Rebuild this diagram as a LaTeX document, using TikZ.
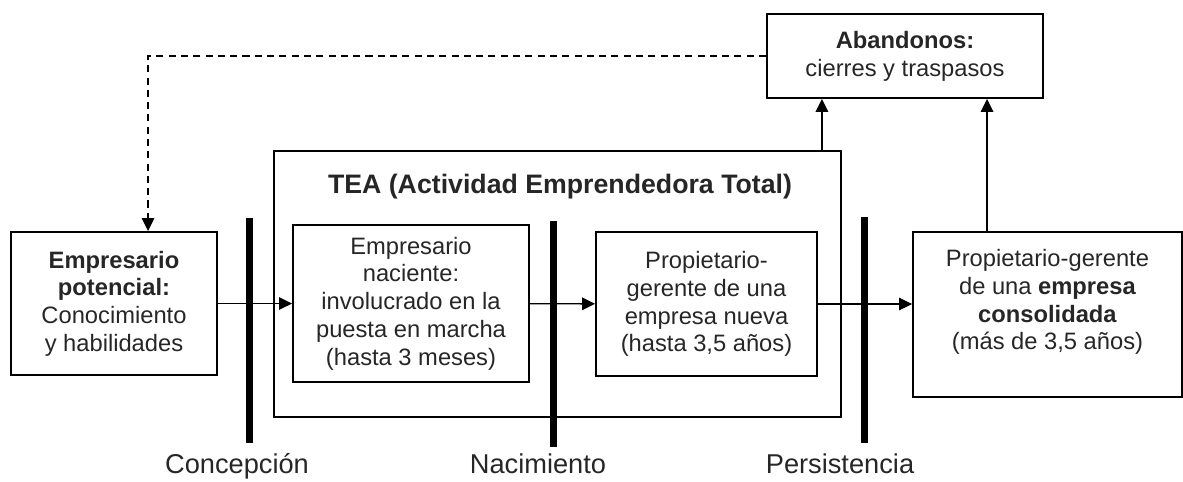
\documentclass[tikz,border=0pt]{standalone}
\usepackage{fontspec}
\setmainfont{Liberation Sans}
\usetikzlibrary{arrows.meta}

\begin{document}
\begin{tikzpicture}[x=0.02cm,y=-0.02cm,
  every node/.style={text=black!85},
  box/.style={draw=black,line width=1.1pt,inner sep=0pt,align=center,
    font=\fontsize{13.5}{15.8}\selectfont},
  bar/.style={fill=black,inner sep=0pt,minimum width=0.14cm},
  arr/.style={line width=0.8pt,-{Triangle[length=0.26cm,width=0.25cm]}},
  lbl/.style={font=\fontsize{15.5}{18}\selectfont,anchor=base}]
\useasboundingbox (0,0) rectangle (1183,481);

% phases of the TEA
\node[box,minimum width=11.34cm,minimum height=5.32cm] (tea) at (557.5,284) {};
\node[lbl,font=\fontsize{15.2}{18}\selectfont\bfseries] (teatitle) at (560,193)
  {TEA (Actividad Emprendedora Total)};

\node[box,minimum width=4.12cm,minimum height=2.86cm] (pot) at (114,303.5)
  {\textbf{Empresario}\\\textbf{potencial:}\\Conocimiento\\y habilidades};
\node[box,minimum width=4.72cm,minimum height=3.14cm] (nac) at (411,303.5)
  {Empresario\\naciente:\\involucrado en la\\puesta en marcha\\(hasta 3 meses)};
\node[box,minimum width=4.42cm,minimum height=2.88cm] (nueva) at (706.5,304)
  {Propietario-\\gerente de una\\empresa nueva\\(hasta 3,5 años)};
\node[box,minimum width=5.38cm,minimum height=3.30cm] (consol) at (1047.5,314.5) {};
\node[box,draw=none] (consoltxt) at (1047.5,302)
  {Propietario-gerente\\de una \textbf{empresa}\\\textbf{consolidada}\\(más de 3,5 años)};
\node[box,minimum width=5.52cm,minimum height=1.68cm] (aband) at (905,56)
  {\textbf{Abandonos:}\\cierres y traspasos};

% flows
\draw[arr] (pot) -- (nac);
\draw[arr] (nac) -- (nueva);
\draw[arr] (nueva.east) -- (nueva.east -| consol.west);
\draw[arr] ([xshift=-0.4cm]tea.north east) coordinate (t1) -- (t1 |- aband.south);
\draw[arr] ([xshift=1.5cm]consol.north west) coordinate (c1) -- (c1 |- aband.south);
\draw[arr,dashed,dash pattern=on 4pt off 3pt] (aband.west) -| ([xshift=2.76cm]pot.north west);

% milestones
\node[bar,minimum height=4.5cm] (concep) at (249,330.5) {};
\node[bar,minimum height=4.52cm] (nacim) at (553,334) {};
\node[bar,minimum height=4.52cm] (persis) at (864,330) {};
\node[lbl] (concepl) at (237,473) {Concepción};
\node[lbl] (naciml) at (538,473) {Nacimiento};
\node[lbl] (persisl) at (840,473) {Persistencia};
\end{tikzpicture}
\end{document}
